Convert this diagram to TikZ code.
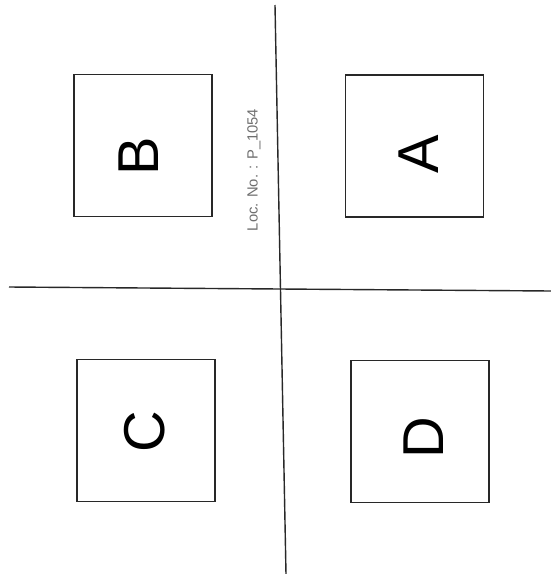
\documentclass[tikz,border=0pt]{standalone}
\usepackage{fontspec}
\setmainfont{Liberation Sans}
\usepackage{xcolor}
\usetikzlibrary{positioning}
\definecolor{inkgray}{RGB}{40,40,40}
\definecolor{stampgray}{RGB}{110,110,110}

\begin{document}
\begin{tikzpicture}[
    x=0.025cm, y=-0.025cm,
    panel/.style={rectangle,draw=inkgray,line width=0.9pt,
      minimum width=3.45cm,minimum height=3.55cm,inner sep=0pt},
    letter/.style={rotate=90,inner sep=0pt,text=black,
      font=\fontsize{41}{41}\selectfont},
    stamp/.style={rotate=90,inner sep=0pt,text=stampgray,
      font=\fontsize{10.5}{12}\selectfont},
    divider/.style={draw=inkgray,line width=1pt}
  ]
    \useasboundingbox (0,0) rectangle (551,574);

    % the four panels
    \node[panel] (boxB) at (143,145.5) {};
    \node[panel] (boxA) at (414.5,146) {};
    \node[panel] (boxC) at (146,430.5) {};
    \node[panel] (boxD) at (420,431.5) {};

    \node[letter] (letB) at (139,156) {B};
    \node[letter] (letA) at (419,154) {A};
    \node[letter] (letC) at (145,432) {C};
    \node[letter] (letD) at (424,438) {D};

    \node[stamp] (locno) at (254,170) {Loc. No. : P\_1054};

    % dividing lines
    \coordinate (top) at (275,5);
    \coordinate (bottom) at (286,574);
    \coordinate (left) at (9,287);
    \coordinate (right) at (551,291);
    \draw[divider] (top) -- (bottom);
    \draw[divider] (left) -- (right);
  \end{tikzpicture}
\end{document}
